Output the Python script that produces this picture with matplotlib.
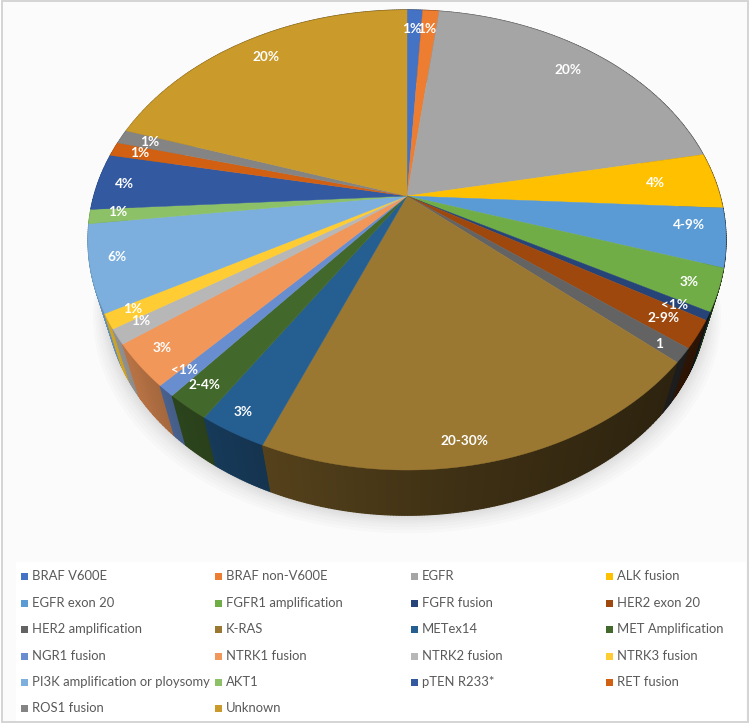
"""Tilted 3D pie of driver alterations with a four-column legend underneath."""

from __future__ import annotations

import matplotlib

matplotlib.use("Agg")
import matplotlib.pyplot as plt
import numpy as np
from matplotlib.patches import Polygon, Rectangle

CATEGORIES = [
    "BRAF V600E", "BRAF non-V600E", "EGFR", "ALK fusion",
    "EGFR exon 20", "FGFR1 amplification", "FGFR fusion", "HER2 exon 20",
    "HER2 amplification", "K-RAS", "METex14", "MET Amplification",
    "NGR1 fusion", "NTRK1 fusion", "NTRK2 fusion", "NTRK3 fusion",
    "PI3K amplification or ploysomy", "AKT1", "pTEN R233*", "RET fusion",
    "ROS1 fusion", "Unknown",
]
# Slice shares as drawn, which differ a little from the printed labels.
SHARES = [
    0.95, 1.0, 19.95, 3.95, 4.1, 2.95, 0.55, 1.95, 1.0, 19.8, 2.95,
    1.9, 0.8, 3.05, 1.05, 1.05, 6.05, 1.0, 4.0, 1.0, 1.0, 19.95,
]
LABELS = [
    "1%", "1%", "20%", "4%", "4-9%", "3%", "<1%", "2-9%", "1", "20-30%", "3%",
    "2-4%", "<1%", "3%", "1%", "1%", "6%", "1%", "4%", "1%", "1%", "20%",
]
COLOURS = [
    "#4472C4", "#ED7D31", "#A5A5A5", "#FFC000", "#5B9BD5", "#70AD47", "#264478",
    "#9E480E", "#636363", "#9B7832", "#255E91", "#43682B", "#698ED0", "#F1975A",
    "#B7B7B7", "#FFCD33", "#7CAFDD", "#8CC168", "#335AA1", "#D26012", "#848484",
    "#CA9A2A",
]

# Label placement: radius within the disc, and a nudge along the rim in share units.
LABEL_RADIUS = [
    0.88, 0.884, 0.86, 0.803, 0.887, 0.913, 0.902, 0.894, 0.927, 0.924, 0.933,
    0.921, 0.92, 0.92, 0.92, 0.923, 0.918, 0.913, 0.912, 0.908, 0.90, 0.877,
]
LABEL_NUDGE = [
    -0.13, -0.1, -0.2, -0.05, -0.6, 0.07, 0.12, 0, 0.1, 1.1, 0.17,
    0.2, 0.25, 0.2, 0.25, 0.12, 0.37, 0.2, -0.1, 0, 0.05, 0.05,
]

# Perspective of the disc, in pixels of the 750x725 canvas.
APEX = (407.0, 196.0)
TILT = 0.1913
SCALE_X = 313.1
SCALE_Y = 221.6
VANISH_Y = 1250.0
DEPTH = 0.058

FONT = "Lato"
LEGEND_X = [21, 215, 411, 606]
LEGEND_Y = [576, 603, 629, 656, 682, 708]


def project(share, radius=1.0):
    """Map a clockwise share (percent) and disc radius to canvas pixels."""
    angle = np.asarray(share) / 100 * 2 * np.pi
    u, v = radius * np.sin(angle), radius * np.cos(angle)
    w = 1 + TILT * v
    return APEX[0] + SCALE_X * u / w, APEX[1] - SCALE_Y * v / w


def drop(x, y):
    """Bottom edge of the pie under a rim point."""
    return x + (APEX[0] - x) * DEPTH, y + (VANISH_Y - y) * DEPTH


def side_factor(x):
    # Side wall is lit from the left and falls into shade on the right.
    return np.interp(x, [100, 170, 260, 460, 700], [0.82, 0.66, 0.55, 0.40, 0.28])


def draw_shadow(ax, x, y):
    for grow in (18, 15, 12, 9, 7, 5, 3, 1.5):
        sx = APEX[0] + (x - APEX[0]) * (1 + grow / 400)
        sy = y + grow
        ax.add_patch(Polygon(np.column_stack([sx, sy]), closed=True, facecolor="#000000",
                             alpha=0.014, edgecolor="none", zorder=1))


def draw_pie(ax):
    edges = np.concatenate([[0], np.cumsum(SHARES)])
    edges = edges / edges[-1] * 100

    rim_x, rim_y = project(np.linspace(0, 100, 721))
    low_x, low_y = drop(rim_x, rim_y)
    draw_shadow(ax, low_x, low_y)

    quads = []
    for start, stop, colour in zip(edges[:-1], edges[1:], COLOURS):
        steps = np.linspace(start, stop, max(2, int((stop - start) * 8) + 2))
        x, y = project(steps)
        bx, by = drop(x, y)
        base = np.array(matplotlib.colors.to_rgb(colour))
        for i in range(len(steps) - 1):
            shade = base * side_factor((x[i] + x[i + 1]) / 2)
            quads.append(((y[i] + y[i + 1]) / 2, [(x[i], y[i]), (x[i + 1], y[i + 1]),
                                                 (bx[i + 1], by[i + 1]), (bx[i], by[i])], shade))
    for _, corners, shade in sorted(quads, key=lambda q: q[0]):
        ax.add_patch(Polygon(corners, closed=True, facecolor=shade, edgecolor=shade,
                             linewidth=0.9, zorder=2))

    for start, stop, colour in zip(edges[:-1], edges[1:], COLOURS):
        x, y = project(np.linspace(start, stop, max(2, int((stop - start) * 8) + 2)))
        corners = np.column_stack([np.r_[APEX[0], x], np.r_[APEX[1], y]])
        ax.add_patch(Polygon(corners, closed=True, facecolor=colour, edgecolor=colour,
                             linewidth=0.3, zorder=3))

    mids = (edges[:-1] + edges[1:]) / 2 + np.array(LABEL_NUDGE)
    for mid, radius, text in zip(mids, LABEL_RADIUS, LABELS):
        x, y = project(mid, radius)
        ax.text(x, y, text, color="white", fontsize=9.8, fontweight="bold", family=FONT,
                ha="center", va="center", zorder=4)


def draw_legend(ax):
    for i, (name, colour) in enumerate(zip(CATEGORIES, COLOURS)):
        x, y = LEGEND_X[i % 4], LEGEND_Y[i // 4]
        ax.add_patch(Rectangle((x, y - 3.5), 7, 7, facecolor=colour, edgecolor="none", zorder=3))
        ax.text(x + 11, y, name, color="#595959", fontsize=9.4, family=FONT,
                ha="left", va="center", zorder=3)


def main():
    fig = plt.figure(figsize=(7.5, 7.25), dpi=100, facecolor="white")
    ax = fig.add_axes([0, 0, 1, 1])
    ax.set_xlim(0, 750)
    ax.set_ylim(725, 0)
    ax.axis("off")

    ax.add_patch(Rectangle((1.5, 1), 746, 721, facecolor="#fbfbfb", edgecolor="#d4d4d4",
                           linewidth=1.4, zorder=0))
    ax.add_patch(Rectangle((16, 562), 730, 159, facecolor="white", edgecolor="none", zorder=0))

    draw_pie(ax)
    draw_legend(ax)
    fig.savefig("out.png", dpi=100, facecolor="white")
    plt.close(fig)


if __name__ == "__main__":
    main()
